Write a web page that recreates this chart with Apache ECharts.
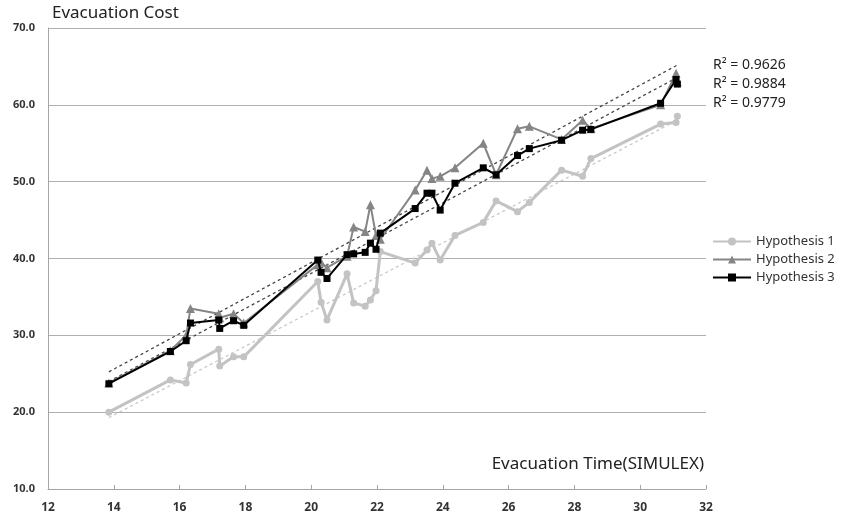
<!DOCTYPE html>
<html>
<head>
<meta charset="utf-8">
<script src="https://cdn.jsdelivr.net/npm/echarts@6/dist/echarts.min.js"></script>
<style>html,body{margin:0;padding:0;background:#fff}#c{width:841px;height:520px}</style>
</head>
<body>
<div id="c"></div>
<script>
const xValues = [13.85, 15.72, 16.2, 16.33, 17.19, 17.22, 17.64, 17.95, 20.2, 20.3, 20.48, 21.09, 21.29, 21.64, 21.8, 21.97, 22.1, 23.16, 23.52, 23.67, 23.92, 24.37, 25.23, 25.62, 26.27, 26.63, 27.61, 28.25, 28.5, 30.62, 31.09, 31.13];
const hyp1 = [20.0, 24.2, 23.8, 26.2, 28.2, 26.0, 27.2, 27.2, 37.0, 34.3, 32.0, 38.0, 34.2, 33.8, 34.6, 35.8, 40.9, 39.4, 41.1, 42.0, 39.8, 43.0, 44.7, 47.5, 46.1, 47.3, 51.5, 50.7, 53.0, 57.5, 57.7, 58.5];
const hyp2 = [23.8, 28.0, 30.0, 33.5, 32.8, 32.3, 32.8, 31.6, 39.2, 39.5, 38.8, 40.3, 44.1, 43.5, 47.0, 43.0, 42.5, 48.9, 51.5, 50.4, 50.7, 51.8, 55.0, 50.9, 56.9, 57.2, 55.5, 58.0, 56.9, 60.0, 64.1, 63.0];
const hyp3 = [23.7, 27.9, 29.3, 31.6, 32.0, 30.9, 31.9, 31.3, 39.8, 38.2, 37.4, 40.5, 40.6, 40.8, 42.0, 41.2, 43.3, 46.5, 48.5, 48.5, 46.3, 49.8, 51.8, 50.9, 53.4, 54.3, 55.4, 56.7, 56.8, 60.2, 63.3, 62.7];
const seriesNames = ['Hypothesis 1', 'Hypothesis 2', 'Hypothesis 3'];
const r2Labels = ['R² = 0.9626', 'R² = 0.9884', 'R² = 0.9779'];
const yTitle = 'Evacuation Cost';
const xTitle = 'Evacuation Time(SIMULEX)';

function pairs(ys){ return xValues.map((x,i)=>[x, ys[i]]); }
function trend(ys){
  const n = xValues.length;
  let sx=0, sy=0, sxx=0, sxy=0;
  for(let i=0;i<n;i++){ const x=xValues[i], y=ys[i]; sx+=x; sy+=y; sxx+=x*x; sxy+=x*y; }
  const b = (n*sxy - sx*sy)/(n*sxx - sx*sx);
  const a = (sy - b*sx)/n;
  const x0 = Math.min(...xValues), x1 = Math.max(...xValues);
  return [[x0, a+b*x0], [x1, a+b*x1]];
}

const colors = ['#c3c3c3', '#858585', '#000000'];
const symbols = ['circle', 'triangle', 'rect'];
const sizes = [7, 9, 7];
const widths = [3, 2, 2];
const trendColors = ['#c8c8c8', '#444444', '#444444'];
const all = [hyp1, hyp2, hyp3];

const series = [];
all.forEach((ys, i) => {
  series.push({
    name: seriesNames[i] + ' trend', type: 'line', data: trend(ys), showSymbol: false, silent: true,
    lineStyle: { color: trendColors[i], width: 1.3, type: [3, 3] }, z: 1
  });
});
all.forEach((ys, i) => {
  series.push({
    name: seriesNames[i], type: 'line', data: pairs(ys), symbol: symbols[i], symbolSize: sizes[i],
    itemStyle: { color: colors[i] }, lineStyle: { color: colors[i], width: widths[i] }, z: 2 + i
  });
});

const chart = echarts.init(document.getElementById('c'));
chart.setOption({
  animation: false,
  backgroundColor: '#fff',
  textStyle: { fontFamily: 'Noto Sans' },
  grid: { left: 48, right: 135, top: 28, bottom: 31, containLabel: false },
  xAxis: {
    type: 'value', min: 12, max: 32, interval: 2,
    axisLine: { show: true, lineStyle: { color: '#a6a6a6', width: 1 } },
    axisTick: { show: true, inside: true, length: 4, lineStyle: { color: '#a6a6a6' } },
    axisLabel: { color: '#333', fontSize: 12, fontWeight: 'bold', margin: 13 },
    splitLine: { show: false }
  },
  yAxis: {
    type: 'value', min: 10, max: 70, interval: 10,
    axisLine: { show: true, lineStyle: { color: '#a6a6a6', width: 1 } },
    axisTick: { show: false },
    axisLabel: { color: '#333', fontSize: 11, fontWeight: 'bold', margin: 13, formatter: v => v.toFixed(1) },
    splitLine: { show: true, lineStyle: { color: '#b0b0b0', width: 1 } }
  },
  legend: {
    data: seriesNames, orient: 'vertical', left: 712, top: 235, itemGap: 5, padding: 0,
    itemWidth: 38, itemHeight: 10,
    textStyle: { color: '#333', fontSize: 13, fontFamily: 'Noto Sans' }
  },
  graphic: [
    { type: 'text', left: 52, top: 5, style: { text: yTitle, fontSize: 17, fill: '#222', fontFamily: 'Noto Sans' } },
    { type: 'text', right: 137, top: 456, style: { text: xTitle, fontSize: 17, fill: '#222', fontFamily: 'Noto Sans' } },
    { type: 'text', left: 713, top: 58, style: { text: r2Labels[0], fontSize: 14, fill: '#222', fontFamily: 'Noto Sans' } },
    { type: 'text', left: 713, top: 77, style: { text: r2Labels[1], fontSize: 14, fill: '#222', fontFamily: 'Noto Sans' } },
    { type: 'text', left: 713, top: 96, style: { text: r2Labels[2], fontSize: 14, fill: '#222', fontFamily: 'Noto Sans' } }
  ],
  series: series
});
</script>
</body>
</html>
